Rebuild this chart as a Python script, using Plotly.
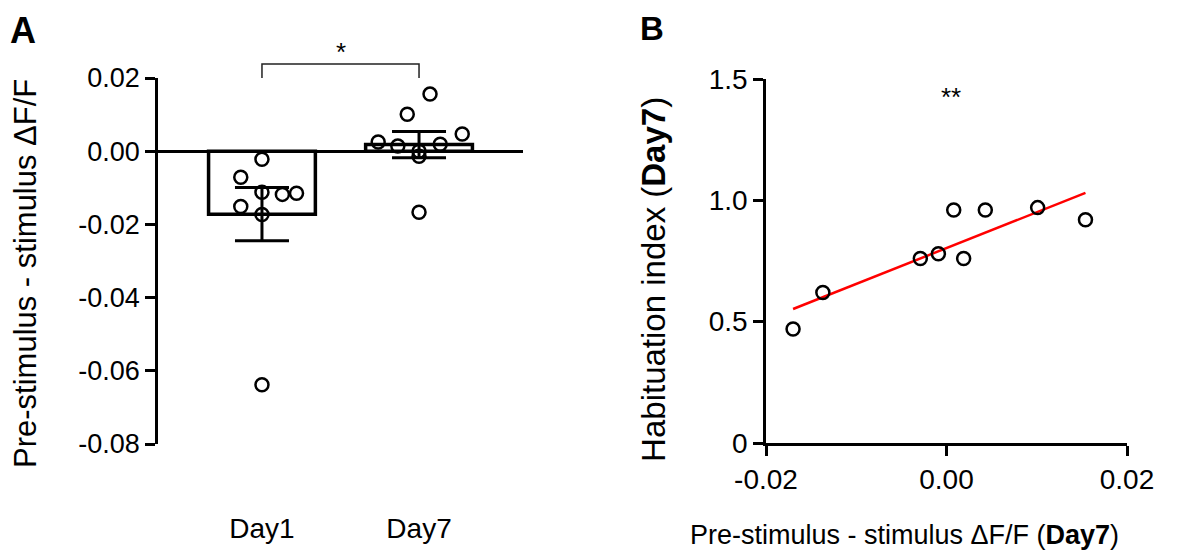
import numpy as np
import plotly.graph_objects as go

# Panel A: pre-stimulus minus stimulus dF/F, Day1 vs Day7
days = ["Day1", "Day7"]
day_pos = [1, 2]
day1_vals = [-0.0022, -0.0071, -0.0112, -0.0118, -0.0115, -0.0151, -0.0173, -0.0638]
day1_jitter = [0.0, -0.135, 0.0, 0.13, 0.22, -0.135, 0.0, 0.0]
day7_vals = [0.0156, 0.0101, 0.0047, 0.0025, 0.0019, 0.0014, 0.0000, -0.0014, -0.0167]
day7_jitter = [0.07, -0.075, 0.275, -0.26, 0.135, -0.135, 0.0, 0.0, 0.0]
bar_means = [-0.0172, 0.0018]
bar_sem = [0.0073, 0.0036]
a_ticks = [-0.08, -0.06, -0.04, -0.02, 0.0, 0.02]
a_ticktext = ["-0.08", "-0.06", "-0.04", "-0.02", "0.00", "0.02"]

# Panel B: habituation index vs dF/F on Day7
dff_day7 = [-0.0170, -0.0137, -0.0029, -0.0009, 0.0008, 0.0019, 0.0043, 0.0101, 0.0154]
habituation = [0.47, 0.62, 0.76, 0.78, 0.96, 0.76, 0.96, 0.97, 0.92]
bx_ticks = [-0.02, 0.0, 0.02]
bx_ticktext = ["-0.02", "0.00", "0.02"]
by_ticks = [0, 0.5, 1.0, 1.5]
by_ticktext = ["0", "0.5", "1.0", "1.5"]

FONT = "Liberation Sans, Arial, sans-serif"
# page has an 8px body margin, so the figure is a bit smaller than the window
OFF = 8
W, H = 1192, 546


def fx(p):
    return (p - OFF) / W


def fy(p):
    return 1 - (p - OFF) / H


NB = "&nbsp;"

fig = go.Figure()

# bars + SEM
fig.add_trace(go.Bar(
    x=day_pos, y=bar_means, width=0.68,
    marker=dict(color="white", line=dict(color="black", width=3.5)),
    error_y=dict(type="data", array=bar_sem, color="black", thickness=3, width=27),
    xaxis="x", yaxis="y", showlegend=False,
))

circle = dict(symbol="circle-open", size=13, color="black", line=dict(width=2.5, color="black"))
fig.add_trace(go.Scatter(
    x=[day_pos[0] + j for j in day1_jitter], y=day1_vals, mode="markers",
    marker=circle, cliponaxis=False, xaxis="x", yaxis="y", showlegend=False,
))
fig.add_trace(go.Scatter(
    x=[day_pos[1] + j for j in day7_jitter], y=day7_vals, mode="markers",
    marker=circle, cliponaxis=False, xaxis="x", yaxis="y", showlegend=False,
))

# panel B regression line + points
slope, intercept = np.polyfit(dff_day7, habituation, 1)
fit_x = np.array([min(dff_day7), max(dff_day7)])
fig.add_trace(go.Scatter(
    x=fit_x, y=slope * fit_x + intercept, mode="lines",
    line=dict(color="#ff0000", width=2.5), xaxis="x2", yaxis="y2", showlegend=False,
))
fig.add_trace(go.Scatter(
    x=dff_day7, y=habituation, mode="markers",
    marker=circle, cliponaxis=False, xaxis="x2", yaxis="y2", showlegend=False,
))

axis_common = dict(
    showgrid=False, linecolor="black", linewidth=2.5, ticks="outside",
    tickcolor="black", tickwidth=2.5, ticklen=10, automargin=False,
    tickfont=dict(family=FONT, size=28, color="black"),
)

fig.update_layout(
    width=W, height=H, margin=dict(l=0, r=0, t=0, b=0),
    paper_bgcolor="white", plot_bgcolor="white",
    font=dict(family=FONT, color="black"),
    xaxis=dict(
        domain=[fx(158), fx(523)], range=[0.338, 2.662],
        tickvals=day_pos, ticktext=days, showline=False, ticks="",
        showgrid=False, zeroline=False, ticklabelstandoff=65, automargin=False,
        tickfont=dict(family=FONT, size=28, color="black"), anchor="y",
    ),
    yaxis=dict(
        axis_common, domain=[fy(444), fy(78)], range=[-0.08, 0.02],
        tickvals=a_ticks, ticktext=a_ticktext, showline=True,
        tickfont=dict(family=FONT, size=27, color="black"),
        zeroline=True, zerolinecolor="black", zerolinewidth=3, anchor="x",
    ),
    xaxis2=dict(
        axis_common, domain=[fx(766), fx(1127)], range=[-0.02, 0.02],
        tickvals=bx_ticks, ticktext=bx_ticktext, showline=True, zeroline=False,
        anchor="y2",
    ),
    yaxis2=dict(
        axis_common, domain=[fy(443), fy(79)], range=[0, 1.5],
        tickvals=by_ticks, ticktext=by_ticktext, showline=True, zeroline=False,
        anchor="x2",
        title=dict(text="Habituation index (<b>Day7</b>)" + NB * 4,
                   font=dict(size=33), standoff=34),
    ),
    shapes=[
        dict(type="path", xref="x", yref="paper",
             path=f"M 1,{fy(78)} L 1,{fy(64)} L 2,{fy(64)} L 2,{fy(78)}",
             line=dict(color="#222", width=1.5)),
    ],
    annotations=[
        # axis titles placed where the reference has them
        dict(text="Pre-stimulus - stimulus ΔF/F", textangle=-90,
             x=fx(25), y=fy(274), xref="paper", yref="paper",
             xanchor="center", yanchor="middle", showarrow=False, font=dict(size=31)),
        dict(text="Pre-stimulus - stimulus ΔF/F (<b>Day7</b>)",
             x=fx(904), y=fy(535), xref="paper", yref="paper",
             xanchor="center", yanchor="middle", showarrow=False, font=dict(size=27)),
        # panel letters and significance marks
        dict(text="<b>A</b>", x=fx(8), y=fy(8), xref="paper", yref="paper",
             xanchor="left", yanchor="top", showarrow=False, font=dict(size=36)),
        dict(text="<b>B</b>", x=fx(638), y=fy(8), xref="paper", yref="paper",
             xanchor="left", yanchor="top", showarrow=False, font=dict(size=33)),
        dict(text="*", x=1.5, y=fy(52), xref="x", yref="paper",
             xanchor="center", yanchor="middle", showarrow=False, font=dict(size=26)),
        dict(text="**", x=fx(951), y=fy(97), xref="paper", yref="paper",
             xanchor="center", yanchor="middle", showarrow=False, font=dict(size=26)),
    ],
)

fig.write_html("out.html")
